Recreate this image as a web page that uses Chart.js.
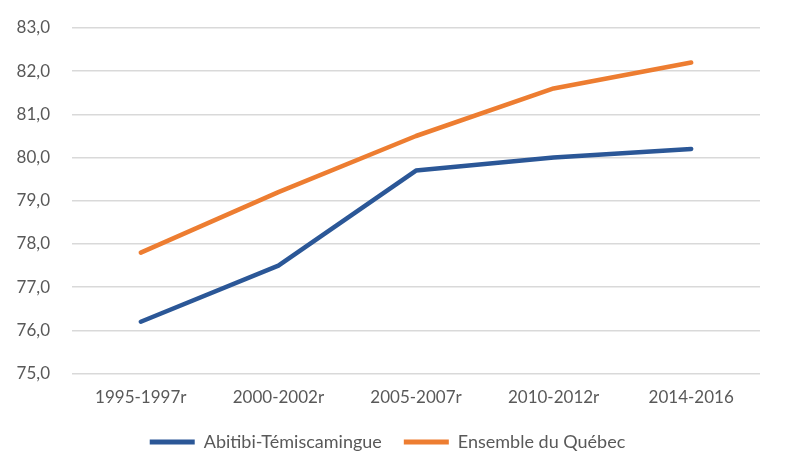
<!DOCTYPE html>
<html>
<head>
<meta charset="utf-8">
<script src="https://cdn.jsdelivr.net/npm/chart.js@4/dist/chart.umd.min.js"></script>
<style>
html,body{margin:0;padding:0;background:#fff;}
#wrap{width:788px;height:463px;}
</style>
</head>
<body>
<div id="wrap"><canvas id="c" width="788" height="463"></canvas></div>
<script>
const categories = ["1995-1997r","2000-2002r","2005-2007r","2010-2012r","2014-2016"];
const abitibi = [76.2, 77.5, 79.7, 80.0, 80.2];
const quebec = [77.8, 79.2, 80.5, 81.6, 82.2];
const seriesNames = ["Abitibi-Témiscamingue","Ensemble du Québec"];
const colors = ["#2b5797","#ed7d31"];
const yMin = 75, yMax = 83, yStep = 1;

const FONT = "Lato, 'Open Sans', sans-serif";
new Chart(document.getElementById('c'), {
  type: 'line',
  data: {
    labels: categories,
    datasets: [
      {label: seriesNames[0], data: abitibi, borderColor: colors[0], backgroundColor: colors[0], borderWidth: 4.5, pointRadius: 0, tension: 0, borderCapStyle: 'round', borderJoinStyle: 'round'},
      {label: seriesNames[1], data: quebec, borderColor: colors[1], backgroundColor: colors[1], borderWidth: 4.5, pointRadius: 0, tension: 0, borderCapStyle: 'round', borderJoinStyle: 'round'}
    ]
  },
  options: {
    responsive: false,
    animation: false,
    devicePixelRatio: 1,
    layout: {padding: {left: 15, right: 28, top: 28, bottom: 2}},
    plugins: {
      tooltip: {enabled: false},
      legend: {
        position: 'bottom',
        labels: {
          font: {family: FONT, size: 18},
          color: '#595959',
          boxWidth: 45,
          boxHeight: 5,
          padding: 22,
          generateLabels: (chart) => chart.data.datasets.map((ds, i) => ({
            text: ds.label, fillStyle: ds.borderColor, strokeStyle: ds.borderColor, lineWidth: 0, datasetIndex: i, fontColor: '#595959'
          }))
        }
      }
    },
    scales: {
      x: {
        offset: true,
        afterFit: s => { s.height -= 11; },
        grid: {display: false, drawTicks: false},
        border: {display: false},
        ticks: {font: {family: FONT, size: 17}, color: '#595959', padding: 14, maxRotation: 0}
      },
      y: {
        min: yMin, max: yMax,
        afterFit: s => { s.width = 57; s.paddingTop = 0; },
        grid: {color: '#d9d9d9', lineWidth: 1.5, drawTicks: false},
        border: {display: false},
        ticks: {stepSize: yStep, font: {family: FONT, size: 17}, color: '#595959', padding: 22,
          callback: v => v.toFixed(1).replace('.', ',')}
      }
    }
  }
});
</script>
</body>
</html>
